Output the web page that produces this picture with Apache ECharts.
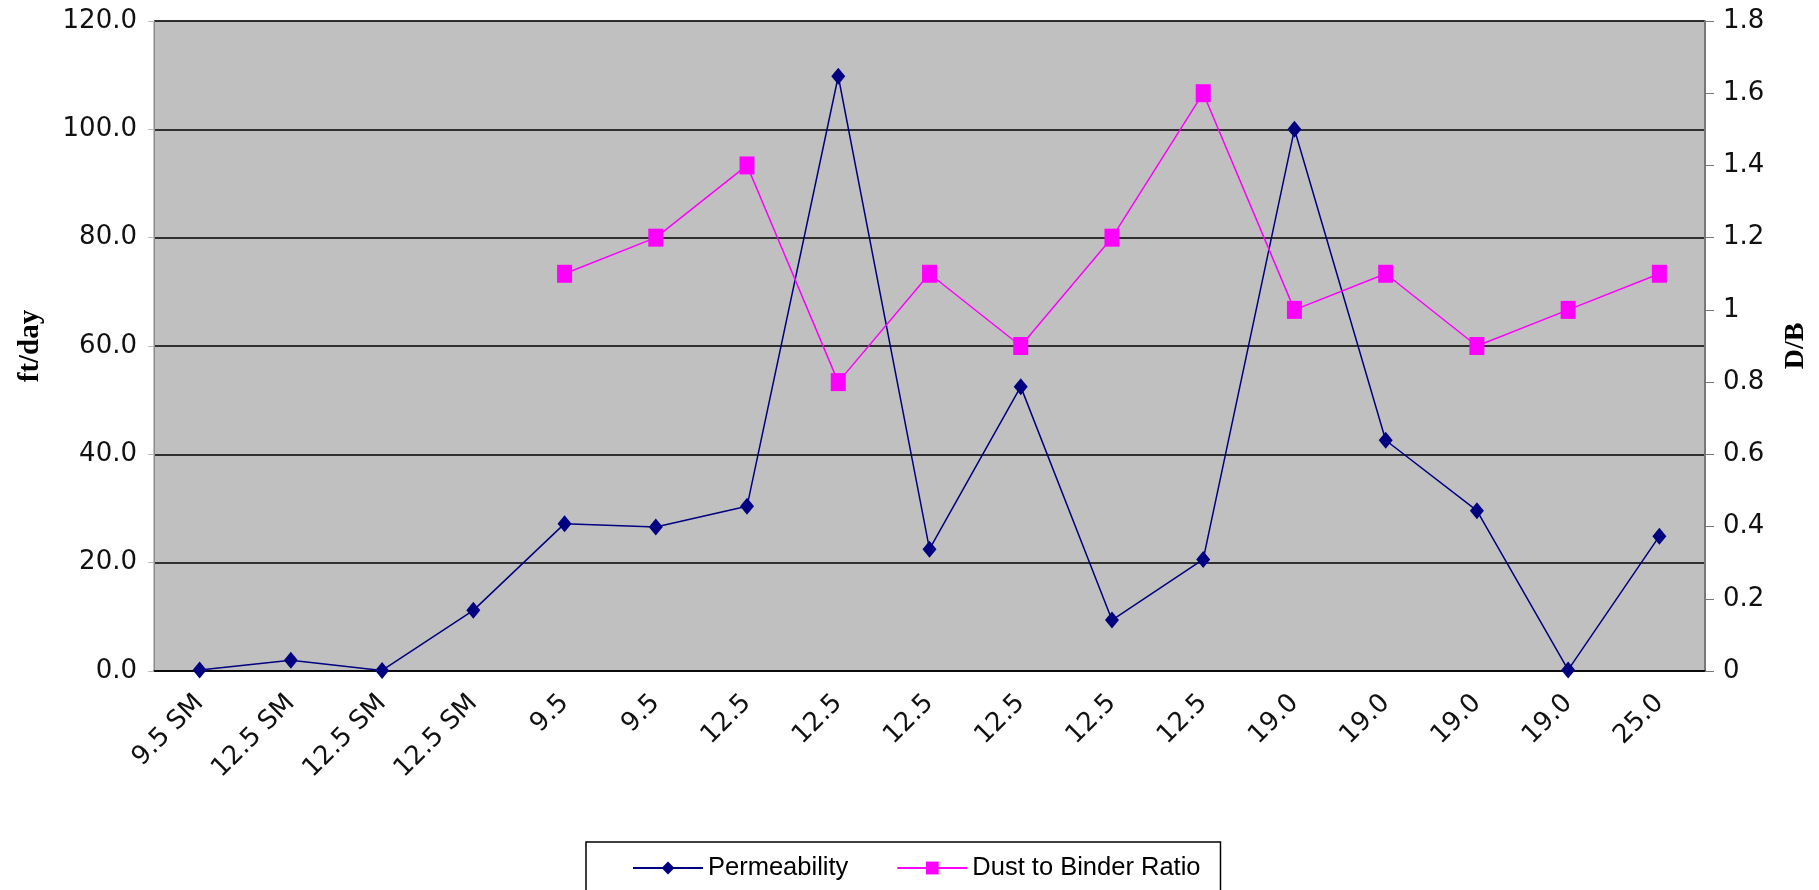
<!DOCTYPE html>
<html>
<head>
<meta charset="utf-8">
<script src="https://cdn.jsdelivr.net/npm/echarts@6/dist/echarts.min.js"></script>
<style>html,body{margin:0;padding:0;background:#fff;}#c{width:1819px;height:890px;}</style>
</head>
<body>
<div id="c"></div>
<script>
const categories = ['9.5 SM','12.5 SM','12.5 SM','12.5 SM','9.5','9.5','12.5','12.5','12.5','12.5','12.5','12.5','19.0','19.0','19.0','19.0','25.0'];
const permeability = [0.2, 2.0, 0.1, 11.2, 27.2, 26.6, 30.4, 109.8, 22.5, 52.5, 9.4, 20.6, 100.0, 42.6, 29.6, 0.2, 24.9];
const dustToBinder = [null, null, null, null, 1.1, 1.2, 1.4, 0.8, 1.1, 0.9, 1.2, 1.6, 1.0, 1.1, 0.9, 1.0, 1.1];
const leftTicks = [0, 20, 40, 60, 80, 100, 120];
const rightTicks = [0, 0.2, 0.4, 0.6, 0.8, 1, 1.2, 1.4, 1.6, 1.8];

const chart = echarts.init(document.getElementById('c'));
const axisFont = '"DejaVu Sans", sans-serif';
const legendFont = '"Liberation Sans", Arial, sans-serif';
const nameFont = '"Liberation Serif", "Times New Roman", serif';
chart.setOption({
  animation: false,
  grid: {left: 154, right: 114, top: 21, bottom: 219, outerBoundsMode: 'none', containLabel: false,
         show: true, backgroundColor: '#c0c0c0', borderColor: '#8a8a8a', borderWidth: 1},
  legend: {
    top: 842, left: 586,
    padding: [13, 20, 30, 46],
    borderColor: '#000', borderWidth: 1.5, backgroundColor: '#fff',
    itemWidth: 70, itemHeight: 16, itemGap: 48,
    textStyle: {fontFamily: legendFont, fontSize: 25.5, color: '#000'},
    data: ['Permeability', 'Dust to Binder Ratio']
  },
  xAxis: {
    type: 'category', data: categories, boundaryGap: true,
    axisLine: {show: true, lineStyle: {color: '#000', width: 1.5}},
    axisTick: {show: false},
    axisLabel: {rotate: 45, fontFamily: axisFont, fontSize: 26, color: '#111', margin: 28, interval: 0, padding: [0, 0, 20, 0]}
  },
  yAxis: [{
    type: 'value', min: leftTicks[0], max: leftTicks[leftTicks.length-1], interval: 20,
    name: 'ft/day', nameLocation: 'middle', nameGap: 109, nameRotate: 90,
    nameTextStyle: {fontFamily: nameFont, fontWeight: 'bold', fontSize: 29, color: '#000'},
    axisLine: {show: true, lineStyle: {color: '#8a8a8a'}},
    axisTick: {show: true, length: 6, lineStyle: {color: '#bbb'}},
    axisLabel: {fontFamily: axisFont, fontSize: 26, color: '#111', margin: 17, formatter: v => v.toFixed(1)},
    splitLine: {show: true, lineStyle: {color: '#000', width: 1.5}}
  }, {
    type: 'value', min: rightTicks[0], max: rightTicks[rightTicks.length-1], interval: 0.2,
    name: 'D/B', nameLocation: 'middle', nameGap: 77, nameRotate: 90,
    nameTextStyle: {fontFamily: nameFont, fontWeight: 'bold', fontSize: 28, color: '#000'},
    axisLine: {show: true, lineStyle: {color: '#777', width: 2}},
    axisTick: {show: true, length: 9, lineStyle: {color: '#777'}},
    axisLabel: {fontFamily: axisFont, fontSize: 26, color: '#111', margin: 18, formatter: v => String(Math.round(v*10)/10)},
    splitLine: {show: false}
  }],
  series: [{
    name: 'Permeability', type: 'line', yAxisIndex: 0, data: permeability,
    symbol: 'diamond', symbolSize: [14, 17],
    lineStyle: {color: '#000080', width: 1.5},
    itemStyle: {color: '#000080'}
  }, {
    name: 'Dust to Binder Ratio', type: 'line', yAxisIndex: 1, data: dustToBinder,
    symbol: 'rect', symbolSize: [15, 18],
    lineStyle: {color: '#ff00ff', width: 1.5},
    itemStyle: {color: '#ff00ff'}
  }]
});
</script>
</body>
</html>
